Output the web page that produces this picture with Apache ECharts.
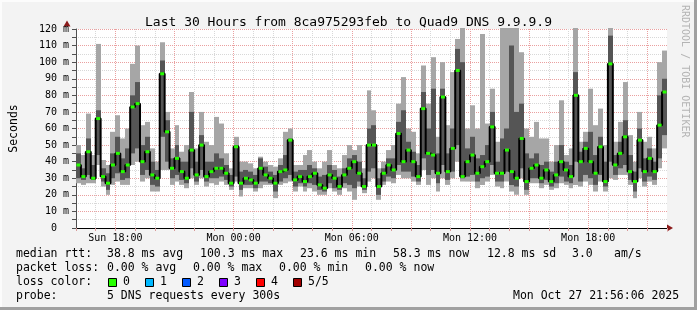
<!DOCTYPE html>
<html><head><meta charset="utf-8">
<script src="https://cdn.jsdelivr.net/npm/echarts@6/dist/echarts.min.js"></script>
<style>html,body{margin:0;padding:0;background:#f3f3f3}#c{width:697px;height:310px}</style>
</head><body><div id="c"></div>
<script>
// time in hours since Sun 00:00; one sample every 15 minutes
const startHour = 16;
const stepHours = 0.25;
const median = [
38,31,46,30,66,31,27,38,45,34,38,73,75,40,46,32,30,93,58,36,
42,34,30,47,32,50,31,34,36,36,33,27,49,27,30,29,27,36,32,30,
27,34,35,53,29,31,28,31,33,26,24,32,30,25,32,36,40,33,25,50,
50,25,33,38,35,57,40,47,40,31,72,45,44,33,79,34,48,95,31,40,
44,33,37,40,61,33,33,47,34,30,54,28,36,38,30,35,28,32,40,35,
31,80,40,48,40,33,49,28,99,38,45,55,34,28,53,34,42,34,62,82];
const smokeMin = [
27,26,27,27,38,25,20,26,28,26,26,38,40,28,30,22,22,35,35,26,
28,26,24,30,26,30,25,27,26,28,26,23,28,19,24,24,22,24,26,26,
18,26,27,28,22,25,22,24,22,20,20,24,22,20,24,22,17,25,21,28,
30,17,26,28,27,32,30,30,28,26,35,26,30,22,30,26,30,40,28,28,
28,24,26,28,32,25,24,28,22,20,30,20,27,27,24,26,23,24,27,26,
24,26,25,28,26,22,28,22,30,29,32,32,26,18,30,25,28,26,36,48];
const smokeLow = [
30,29,32,29,44,28,23,30,33,29,30,45,48,32,35,26,25,55,40,30,
32,29,27,36,28,35,28,30,30,31,29,25,31,23,26,26,24,28,28,27,
22,28,30,32,25,27,25,27,26,23,22,27,24,23,27,26,24,28,23,34,
36,20,28,31,30,38,34,34,31,28,42,32,35,27,38,29,34,50,30,31,
32,28,30,31,38,28,28,34,26,25,36,23,30,30,27,29,25,27,31,28,
27,40,28,32,30,26,32,25,40,32,36,38,29,22,36,28,31,29,42,56];
const smokeHigh = [
45,36,54,38,71,36,33,45,55,42,48,80,88,50,55,40,35,101,65,42,
50,40,40,70,40,56,40,40,45,42,38,32,50,34,35,34,32,42,37,34,
32,38,44,54,34,35,35,38,36,31,32,38,35,31,36,42,44,40,30,60,
62,30,36,42,42,64,71,52,46,38,82,60,84,45,84,45,60,108,100,48,
55,42,44,50,70,40,54,60,110,70,75,45,42,45,38,40,34,40,50,40,
38,94,46,52,58,44,55,40,116,44,52,65,44,34,60,42,48,40,80,90];
const smokeMax = [
50,44,69,44,111,41,38,58,68,54,60,99,110,62,64,48,40,112,70,48,
62,46,50,82,48,70,52,50,67,63,45,36,55,40,40,39,36,43,40,38,
37,42,58,60,38,38,44,47,40,36,40,47,38,36,44,50,47,50,36,83,
71,36,40,47,50,75,91,60,58,45,98,75,103,55,100,62,94,114,121,60,
74,60,117,63,84,52,121,121,121,121,106,60,55,64,54,54,40,50,77,44,
48,122,52,58,84,62,72,50,122,52,64,88,56,40,70,52,55,48,100,107];
const xTickHours = [18,24,30,36,42];
const xTickLabels = ['Sun 18:00','Mon 00:00','Mon 06:00','Mon 12:00','Mon 18:00'];
const lossLabels = ['0','1','2','3','4','5/5'];
const lossColors = ['#26ff00','#00b8ff','#0059ff','#7e00ff','#ff0000','#a10000'];
const rttStats = ['38.8 ms avg','100.3 ms max','23.6 ms min','58.3 ms now','12.8 ms sd','3.0','am/s'];
const lossStats = ['0.00 % avg','0.00 % max','0.00 % min','0.00 % now'];

const smokeData = median.map((m,i)=>{
  const t = startHour + i*stepHours;
  return [t, t+stepHours, smokeMin[i], smokeLow[i], smokeHigh[i], smokeMax[i]];
});
const medianData = median.map((m,i)=>[startHour + i*stepHours + stepHours/2, m]);

const mono = 'DejaVu Sans Mono';
const chart = echarts.init(document.getElementById('c'), null, {renderer:'canvas'});

function txt(x,y,s,size,extra){
  return Object.assign({type:'text', x:x, y:y, silent:true,
    style:Object.assign({text:s, fill:'#000', font:size+'px "'+mono+'"', textAlign:'left', textVerticalAlign:'middle'}, extra||{})});
}
const g = [];
// frame
g.push({type:'rect', shape:{x:0,y:0,width:697,height:2}, style:{fill:'#fcfcfc'}, silent:true});
g.push({type:'rect', shape:{x:0,y:0,width:2,height:310}, style:{fill:'#fcfcfc'}, silent:true});
g.push({type:'rect', shape:{x:0,y:307,width:697,height:3}, style:{fill:'#a0a0a0'}, silent:true});
g.push({type:'rect', shape:{x:694,y:0,width:3,height:310}, style:{fill:'#a0a0a0'}, silent:true});
// arrows
g.push({type:'polygon', shape:{points:[[667,224.5],[667,231.5],[673,228]]}, style:{fill:'#8b1a1a'}, silent:true});
g.push({type:'polygon', shape:{points:[[63.5,26.5],[70.5,26.5],[67,20.5]]}, style:{fill:'#8b1a1a'}, silent:true});
// rrdtool credit
g.push(txt(685,5,'RRDTOOL / TOBI OETIKER',10,{fill:'#b4b4b4', textVerticalAlign:'middle'}));
g[g.length-1].rotation = -Math.PI/2;
// legend lines
const fs = 11.5;
g.push(txt(16,254,'median rtt:',fs));
[107,200,300,393,487,572,614].forEach((x,i)=>g.push(txt(x,254,rttStats[i],fs)));
g.push(txt(16,268,'packet loss:',fs));
[107,193,279,365].forEach((x,i)=>g.push(txt(x,268,lossStats[i],fs)));
g.push(txt(16,282,'loss color:',fs));
[108,145,182,219,256,293].forEach((x,i)=>{
  g.push({type:'rect', shape:{x:x+0.5,y:278.5,width:8,height:8}, style:{fill:lossColors[i], stroke:'#000', lineWidth:1}, silent:true});
  g.push(txt(x+15,282,lossLabels[i],fs));
});
g.push(txt(16,296,'probe:',fs));
g.push(txt(107,296,'5 DNS requests every 300s',fs));
g.push(txt(513,296,'Mon Oct 27 21:56:06 2025',fs));

chart.setOption({
  animation:false,
  backgroundColor:'#f3f3f3',
  title:{text:'Last 30 Hours from 8ca975293feb to Quad9 DNS 9.9.9.9', left:'center', top:11,
    textStyle:{fontFamily:mono, fontSize:13, fontWeight:'normal', color:'#000'}},
  grid:{left:67, top:29, width:600, height:199, backgroundColor:'#ffffff', show:true, borderWidth:0},
  xAxis:{type:'value', min:16, max:46, interval:1,
    axisLine:{show:true, lineStyle:{color:'#000', width:1}},
    axisTick:{show:true, length:3, lineStyle:{color:'#d89a9a'}},
    axisLabel:{margin:5, fontFamily:mono, fontSize:10, color:'#000',
      formatter:v=>{const k=xTickHours.indexOf(v); return k>=0?xTickLabels[k]:'';}},
    splitLine:{show:true, showMaxLine:false, lineStyle:{color:['#d8d8d8','#d8d8d8','#eaa0a0'], type:[1,1], width:1}}},
  yAxis:{type:'value', min:0, max:120, interval:5,
    name:'Seconds', nameLocation:'middle', nameRotate:90, nameGap:56,
    nameTextStyle:{fontFamily:mono, fontSize:11.5, color:'#000'},
    axisLine:{show:true, lineStyle:{color:'#505050', width:1}},
    axisTick:{show:true, length:4, lineStyle:{color:'#505050'}},
    axisLabel:{margin:7, fontFamily:mono, fontSize:10, color:'#000',
      formatter:v=> v%10!==0 ? '' : (v===0 ? '0\u00a0\u00a0' : v+' m')},
    splitLine:{show:true, lineStyle:{color:['#eaa0a0','#d8d8d8'], type:[1,1], width:1}}},
  graphic:g,
  series:[
    {type:'custom', data:smokeData, encode:{x:[0,1], y:[2,3,4,5]}, silent:true, z:2,
      renderItem:(params, api)=>{
        const t0=api.value(0), t1=api.value(1);
        const cs=params.coordSys;
        const clip={x:cs.x, y:cs.y-1, width:cs.width, height:cs.height+1};
        function rect(a,b,fill){
          const p1=api.coord([t0,b]), p2=api.coord([t1,a]);
          const sh=echarts.graphic.clipRectByRect({x:Math.round(p1[0]), y:p1[1], width:Math.round(p2[0])-Math.round(p1[0]), height:p2[1]-p1[1]}, clip);
          return sh ? {type:'rect', shape:sh, style:{fill:fill}} : null;
        }
        const ch=[rect(api.value(2),api.value(5),'#a6a6a6'), rect(api.value(3),api.value(4),'#555555')].filter(Boolean);
        return {type:'group', children:ch};
      }},
    {type:'line', data:medianData, step:'middle', z:3, silent:true,
      lineStyle:{color:'#000', width:2},
      symbol:'rect', symbolSize:[4,3], showSymbol:true, showAllSymbol:true,
      itemStyle:{color:'#26ff00', borderWidth:0}}
  ]
});
</script></body></html>
